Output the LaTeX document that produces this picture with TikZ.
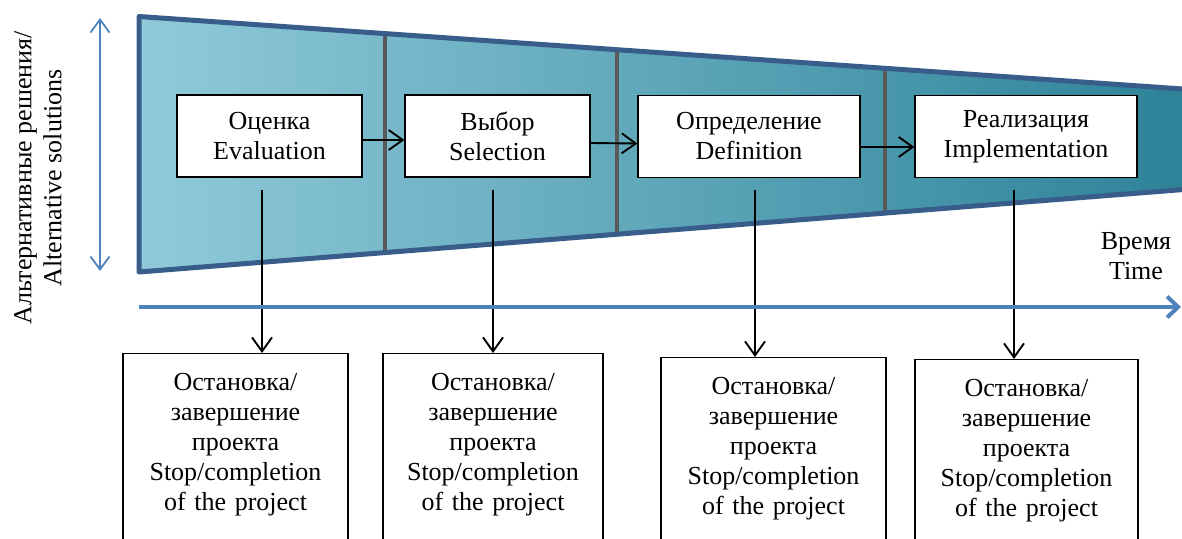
\documentclass[tikz,border=0pt]{standalone}
\usepackage{fontspec}
\setmainfont{Liberation Serif}
\usetikzlibrary{arrows.meta,calc}
\definecolor{frameblue}{RGB}{56,93,138}
\definecolor{axisblue}{RGB}{79,129,189}
\definecolor{lightteal}{RGB}{143,202,218}
\definecolor{darkteal}{RGB}{45,130,152}
\definecolor{bargray}{RGB}{90,90,90}
\tikzset{txt/.append style={font=\fontsize{26}{30}\selectfont}}
\tikzset{stg/.append style={txt,draw,fill=white,line width=1.3pt,align=center,minimum height=82pt}}
\tikzset{stp/.append style={txt,draw,line width=1.1pt,align=center,anchor=north,inner xsep=0pt,inner ysep=19.5pt,text depth=200pt}}
\tikzset{flow/.append style={-{Straight Barb[length=14pt,width=20pt]},line width=1.9pt}}
\tikzset{timeline/.append style={axisblue,line width=4pt,-{Straight Barb[length=11pt,width=21pt]}}}
\tikzset{dbl/.append style={axisblue,line width=1.8pt,{Straight Barb[length=13pt,width=19pt]}-{Straight Barb[length=13pt,width=19pt]}}}

\begin{document}
\begin{tikzpicture}[x=1pt,y=-1pt]
                \useasboundingbox (0,0) rectangle (1182,538);
                % funnel
                \coordinate (tl) at (139,16.5);
                \coordinate (tr) at (1190,89.5);
                \coordinate (br) at (1190,189);
                \coordinate (bl) at (139,272);
                \path[left color=lightteal,right color=darkteal] (tl) -- (tr) -- (br) -- (bl) -- cycle;
                \foreach \xx in {385,617,885}
                    \draw[bargray,line width=4pt] ($(tl)!{(\xx-139)/1051}!(tr)$) -- ($(bl)!{(\xx-139)/1051}!(br)$);
                \draw[frameblue,line width=5pt,line join=round] (tl) -- (tr) -- (br) -- (bl) -- cycle;
                % stages
                \node[stg,minimum width=185pt] (eval) at (269.5,136) {Оценка\\Evaluation};
                \node[stg,minimum width=185pt] (sel) at (497.5,136) {Выбор\\Selection};
                \node[stg,minimum width=222pt] (def) at (749,136.5) {Определение\\Definition};
                \node[stg,minimum width=222pt] (impl) at (1026,136.5) {Реализация\\Implementation};
                \node[stp,text width=225pt] (stopA) at (235.5,353) {Остановка/\\завершение\\проекта\\Stop/completion\\of the project};
                \node[stp,text width=220pt] (stopB) at (493,353) {Остановка/\\завершение\\проекта\\Stop/completion\\of the project};
                \node[stp,text width=225pt] (stopC) at (773.5,357) {Остановка/\\завершение\\проекта\\Stop/completion\\of the project};
                \node[stp,text width=223pt] (stopD) at (1026.5,359) {Остановка/\\завершение\\проекта\\Stop/completion\\of the project};
                \path ([yshift=-4pt]eval.east) edge[flow] ([yshift=-4pt]sel.west);
                \path ([yshift=-7pt]sel.east) edge[flow] ([yshift=-7pt]def.west);
                \path ([yshift=-10.5pt]def.east) edge[flow] ([yshift=-10.5pt]impl.west);
                \path ([xshift=-7.5pt]eval.south) edge[flow,shorten <=12pt] ([xshift=-7.5pt]eval.south |- stopA.north);
                \path ([xshift=-4.5pt]sel.south) edge[flow,shorten <=12pt] ([xshift=-4.5pt]sel.south |- stopB.north);
                \path ([xshift=6pt]def.south) edge[flow,shorten <=12pt] ([xshift=6pt]def.south |- stopC.north);
                \path ([xshift=-12pt]impl.south) edge[flow,shorten <=12pt] ([xshift=-12pt]impl.south |- stopD.north);
                % axes
                \coordinate (t0) at (139,307);
                \coordinate (t1) at (1181,307);
                \draw[timeline] (t0) -- (t1);
                \node[txt,align=center,inner sep=0pt] (timelbl) at (1136,256) {Время\\Time};
                \coordinate (altTop) at (100,18);
                \coordinate (altBot) at (100,271);
                \draw[dbl] (altTop) -- (altBot);
                \node[txt,rotate=90,align=center,inner sep=0pt] (altlbl) at (38,178) {Альтернативные решения/\\Alternative solutions};
            \end{tikzpicture}
\end{document}
